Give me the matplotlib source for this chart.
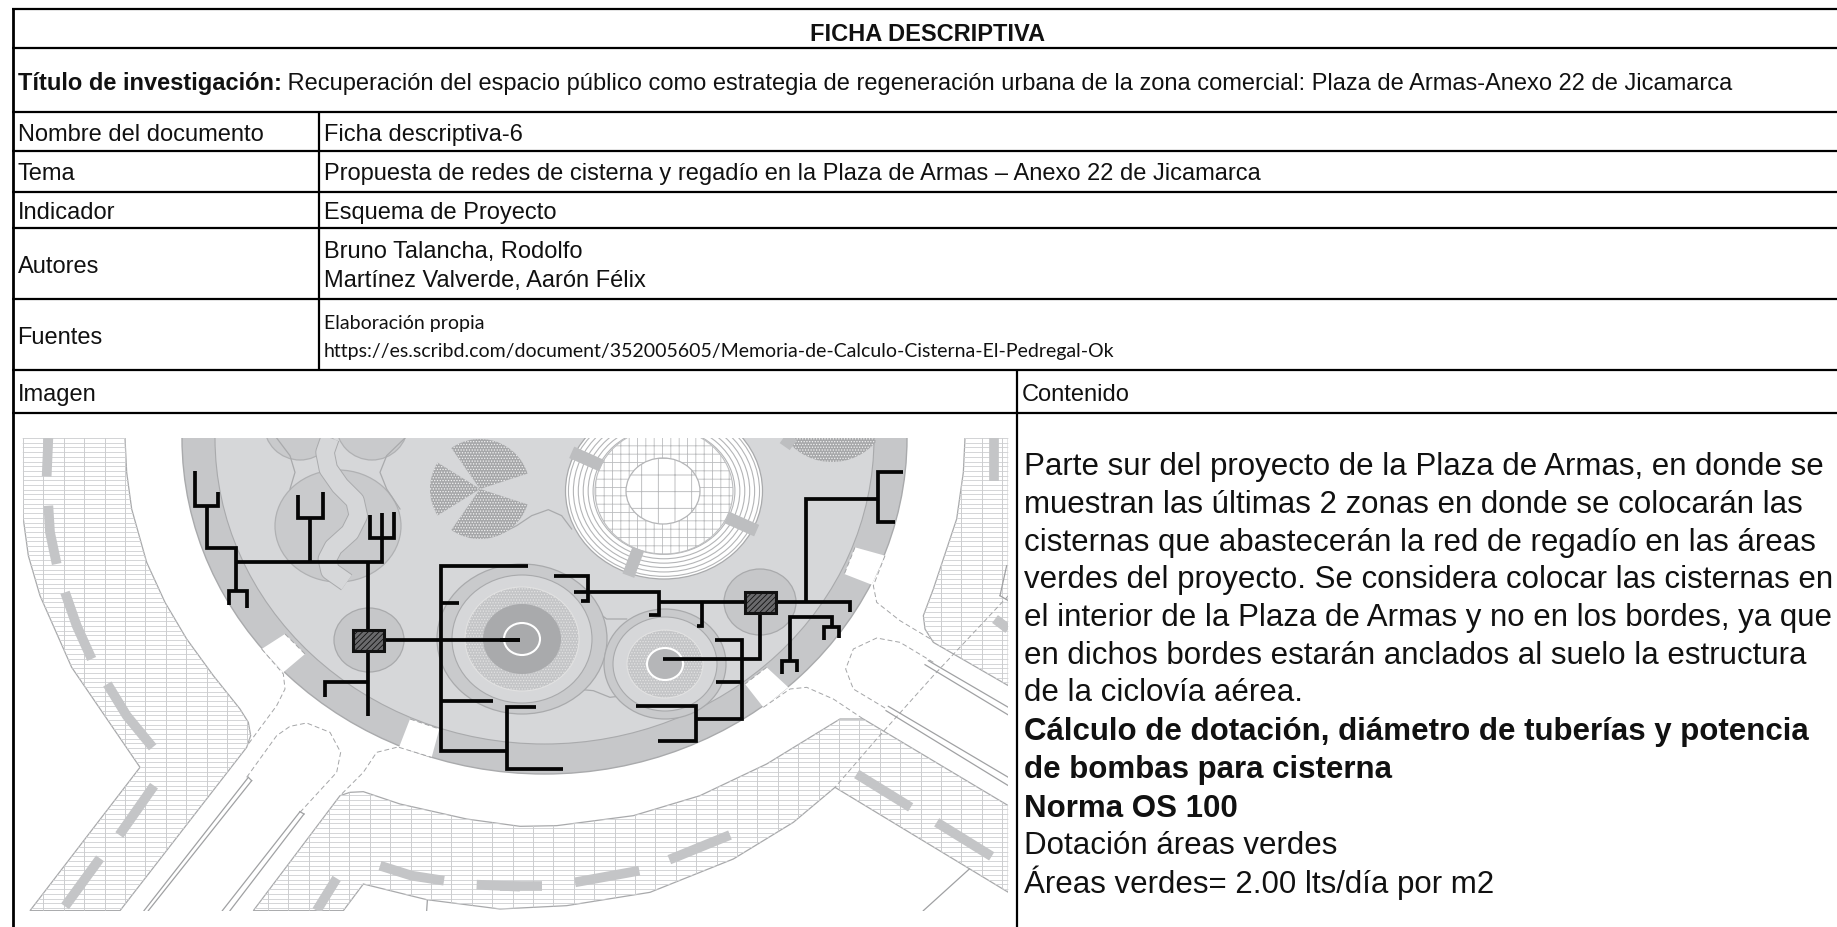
import numpy as np
import matplotlib
matplotlib.use("Agg")
import matplotlib.pyplot as plt
from matplotlib.patches import Polygon, Ellipse, Wedge, Rectangle
from matplotlib.collections import LineCollection

plt.rcParams['font.family'] = ['Liberation Sans']
plt.rcParams['hatch.linewidth'] = 0.6

# ---------- table texts ----------
header = "FICHA DESCRIPTIVA"
title_bold = "Título de investigación:"
title_rest = " Recuperación del espacio público como estrategia de regeneración urbana de la zona comercial: Plaza de Armas-Anexo 22 de Jicamarca"
row_labels = ["Nombre del documento", "Tema", "Indicador", "Autores", "Fuentes"]
row_label_y = [141, 180, 219, 273, 344]
row_values = ["Ficha descriptiva-6",
              "Propuesta de redes de cisterna y regadío en la Plaza de Armas – Anexo 22 de Jicamarca",
              "Esquema de Proyecto",
              "Bruno Talancha, Rodolfo",
              "Martínez Valverde, Aarón Félix"]
row_value_y = [141, 180, 219, 258, 287]
sources = ["Elaboración propia",
           "https://es.scribd.com/document/352005605/Memoria-de-Calculo-Cisterna-El-Pedregal-Ok"]
sources_y = [329, 357]
imagen_label = "Imagen"
contenido_label = "Contenido"
para_lines = [
    ("Parte sur del proyecto de la Plaza de Armas, en donde se", False),
    ("muestran las últimas 2 zonas en donde se colocarán las", False),
    ("cisternas que abastecerán la red de regadío en las áreas", False),
    ("verdes del proyecto. Se considera colocar las cisternas en", False),
    ("el interior de la Plaza de Armas y no en los bordes, ya que", False),
    ("en dichos bordes estarán anclados al suelo la estructura", False),
    ("de la ciclovía aérea.", False),
    ("Cálculo de dotación, diámetro de tuberías y potencia", True),
    ("de bombas para cisterna", True),
    ("Norma OS 100", True),
    ("Dotación áreas verdes", False),
    ("Áreas verdes= 2.00 lts/día por m2", False),
]
para_y = [474.7, 512.8, 550.8, 587.9, 625.6, 663.6, 701.3, 740, 778, 816.8, 854.5, 893.3]

# ---------- table grid ----------
grid_y = [10, 49, 113, 152, 193, 229, 300, 371, 414]

# ---------- diagram geometry (crop A = left, crop B = right) ----------
def A(pts):
    return [(x / 3, 420 + y / 3) for x, y in pts]
def B(pts):
    return [(500 + x / 3, 420 + y / 3) for x, y in pts]

pave_left = A([(68, 57), (375, 57), (380, 160), (395, 270), (440, 430), (495, 550), (560, 660), (640, 770), (720, 870),
               (745, 910), (752, 950), (740, 985), (360, 1475), (90, 1475), (420, 1045), (215, 745), (120, 530),
               (85, 410), (70, 300)])
pave_bottom = A([(760, 1475), (1020, 1130), (1050, 1120), (1090, 1118), (1200, 1155), (1400, 1200), (1560, 1222)]) + \
    B([(170, 1220), (400, 1190), (600, 1130), (800, 1035), (1020, 900), (1090, 900), (1525, 1160), (1525, 1420),
       (1005, 1105), (880, 1210), (700, 1320), (450, 1420), (200, 1460), (0, 1470)]) + \
    A([(1280, 1442), (1090, 1395), (1030, 1475)])
pave_right = B([(1395, 57), (1525, 57), (1525, 800), (1300, 670), (1275, 630), (1270, 590), (1300, 510), (1370, 300),
                (1390, 160)])
benches = [A([(145, 57), (140, 172)]), A([(145, 260), (150, 340), (170, 435)]), A([(195, 520), (230, 620), (275, 720)]),
           A([(322, 795), (380, 890), (458, 985)]), A([(462, 1100), (358, 1248)]), A([(300, 1318), (195, 1462)]),
           A([(1010, 1378), (950, 1475)]), A([(1140, 1340), (1235, 1370), (1332, 1385)]),
           A([(1430, 1397), (1560, 1403)]), B([(0, 1400), (125, 1400)]), B([(225, 1390), (418, 1355)]),
           B([(508, 1322), (690, 1248)]), B([(1070, 1065), (1232, 1165)]), B([(1310, 1210), (1475, 1312)]),
           B([(1482, 57), (1482, 185)]), B([(1485, 600), (1525, 630)])]
ring_gaps = [A([(785, 690), (855, 645), (915, 705), (850, 760)]), A([(1230, 900), (1318, 930), (1295, 1015), (1197, 985)]),
             B([(1065, 385), (1155, 410), (1115, 497), (1033, 465)]), B([(800, 745), (865, 805), (790, 865), (735, 795)])]
dashed = [A([(785, 690), (850, 765), (855, 810), (830, 860), (745, 975)]),
          A([(740, 1075), (830, 950), (870, 922), (920, 912), (990, 940), (1022, 1000), (1010, 1060), (900, 1180)]),
          A([(1190, 985), (1130, 1000), (1090, 1060), (1020, 1130)]), A([(1197, 985), (1295, 1015)]),
          A([(855, 645), (915, 705)]), A([(1230, 900), (1318, 930)]),
          B([(800, 745), (735, 795)]), B([(1065, 385), (1033, 465)]),
          B([(1155, 410), (1120, 500), (1130, 550), (1200, 605), (1300, 665)]),
          B([(1300, 730), (1200, 670), (1130, 657), (1060, 690), (1037, 750), (1060, 810), (1160, 870)]),
          B([(790, 865), (870, 810), (920, 805), (1000, 840), (1090, 900)]),
          B([(1525, 530), (1300, 770), (1130, 960), (1005, 1105)])]
thin_lines = [A([(745, 1075), (432, 1475)]), A([(755, 1085), (445, 1475)]), A([(900, 1178), (667, 1475)]),
              A([(912, 1185), (690, 1475)]), A([(745, 1075), (755, 1085)]), A([(900, 1178), (912, 1185)]),
              B([(1285, 725), (1525, 865)]), B([(1275, 737), (1525, 888)]), B([(1165, 862), (1525, 1075)]),
              B([(1158, 875), (1525, 1100)]), B([(1408, 1350), (1270, 1475)]), A([(1282, 1445), (1280, 1475)]),
              B([(1500, 530), (1525, 545)]), B([(1500, 530), (1520, 440)])]
winding_path = A([(990, 57), (975, 100), (985, 150), (1020, 200), (1065, 245), (1075, 290), (1050, 340), (1000, 385),
                  (982, 420), (990, 455), (1040, 490)])
soft_curves = [A([(830, 57), (870, 110), (885, 160), (870, 210)]), A([(1215, 57), (1160, 110), (1140, 160), (1160, 210), (1200, 270)]),
               B([(0, 345), (50, 320), (95, 290), (145, 272), (185, 290), (215, 330)]),
               B([(280, 570), (320, 600), (380, 600)]), B([(225, 810), (280, 815), (330, 835), (370, 830)])]
bench_links = [B([(215, 100), (305, 140)]), B([(680, 295), (770, 335)]), B([(415, 390), (385, 470)]),
               B([(850, 57), (880, 78)])]
pipes = [A([(585, 155), (585, 262), (655, 262), (655, 220)]),
         A([(620, 262), (620, 388), (707, 388), (707, 515)]),
         A([(687, 557), (687, 515), (742, 515), (742, 567)]),
         A([(707, 430), (1145, 430), (1145, 282)]),
         A([(1110, 288), (1110, 358), (1183, 358), (1183, 280)]),
         A([(895, 228), (895, 297), (968, 297), (968, 220)]),
         A([(930, 297), (930, 430)]),
         A([(1104, 430), (1104, 632)]),
         A([(1104, 695), (1104, 892)]),
         A([(976, 835), (976, 790), (1104, 790)]),
         A([(1150, 662), (1560, 662)]),
         B([(0, 662), (60, 662)]),
         A([(1585, 442), (1324, 442), (1324, 997), (1520, 997)]),
         A([(1324, 552), (1376, 552)]),
         A([(1324, 845), (1480, 845)]),
         B([(108, 863), (20, 863), (20, 1050), (188, 1050)]),
         B([(162, 470), (263, 470), (263, 545), (243, 545)]),
         B([(222, 518), (478, 518), (478, 588), (447, 588)]),
         B([(478, 548), (735, 548)]),
         B([(607, 548), (607, 620), (590, 620)]),
         B([(780, 578), (780, 720), (490, 720)]),
         B([(645, 662), (727, 662), (727, 900), (588, 900)]),
         B([(648, 790), (727, 790)]),
         B([(407, 860), (588, 860), (588, 965), (473, 965)]),
         B([(828, 548), (1050, 548), (1050, 578)]),
         B([(918, 548), (918, 240), (1135, 240)]),
         B([(1208, 160), (1135, 160), (1135, 310), (1185, 310)]),
         B([(918, 595), (997, 595), (997, 622)]),
         B([(972, 662), (972, 623), (1017, 623), (1017, 658)]),
         B([(870, 725), (870, 595), (918, 595)]),
         B([(845, 765), (845, 727), (890, 727), (890, 760)])]
cistern_boxes = [(352.5, 631, 31, 21), (745, 592.5, 31, 21)]

# colours
LIGHT, MID, DARK, PAVE = "#d6d7d9", "#c6c7c9", "#a9aaac", "#c9cacc"

fig = plt.figure(figsize=(18.37, 9.28), dpi=100, facecolor="white")
ax = fig.add_axes([0, 0, 1, 1])
ax.set_xlim(0, 1837)
ax.set_ylim(928, 0)
ax.axis("off")

clip = Rectangle((23, 439), 985, 473, transform=ax.transData, fill=False, lw=0)
ax.add_patch(clip)
drawn = []

def add(p):
    ax.add_patch(p)
    drawn.append(p)
    return p

def line(pts, **kw):
    xs, ys = zip(*pts)
    l, = ax.plot(xs, ys, **kw)
    drawn.append(l)
    return l

def hatch_polygon(pts):
    poly = Polygon(pts, closed=True, fc="white", ec="#a8a9ab", lw=0.9, zorder=1)
    ax.add_patch(poly)
    drawn.append(poly)
    segs = [[(20, y), (1010, y)] for y in np.arange(439, 915, 4.7)]
    lc = LineCollection(segs, colors="#d4d5d7", linewidths=0.7, zorder=1.1)
    ax.add_collection(lc)
    lc.set_clip_path(Polygon(pts, closed=True, transform=ax.transData))
    segs = [[(x, 430), (x, 920)] for x in np.arange(23, 1010, 20.4)]
    lc = LineCollection(segs, colors="#cccdcf", linewidths=0.7, zorder=1.1)
    ax.add_collection(lc)
    lc.set_clip_path(Polygon(pts, closed=True, transform=ax.transData))

for pts in (pave_left, pave_bottom, pave_right):
    hatch_polygon(pts)
for b in benches:
    line(b, color="#c4c5c7", lw=7, solid_capstyle="butt", solid_joinstyle="round", zorder=1.5)

# plaza (stretched circle)
cx, cy = 544.5, 439
add(Ellipse((cx, cy), 725, 672, fc=MID, ec="#a9aaac", lw=1, zorder=2))
add(Ellipse((cx, cy), 659, 612, fc=LIGHT, ec="#a9aaac", lw=0.8, zorder=2.1))
for g in ring_gaps:
    add(Polygon(g, closed=True, fc="white", ec="none", zorder=2.2))

# gardens
add(Ellipse((338, 527), 126, 112, fc=PAVE, ec="#b0b1b3", lw=0.9, zorder=2.3))
add(Ellipse((300, 425), 72, 72, fc=PAVE, ec="#b0b1b3", lw=0.9, zorder=2.3))
add(Ellipse((372, 425), 72, 72, fc=PAVE, ec="#b0b1b3", lw=0.9, zorder=2.3))
line(winding_path, color="#a9aaac", lw=14, solid_joinstyle="round", solid_capstyle="butt", zorder=2.35)
line(winding_path, color=LIGHT, lw=12.6, solid_joinstyle="round", solid_capstyle="butt", zorder=2.36)
for c in soft_curves:
    line(c, color="#a9aaac", lw=0.9, zorder=2.37)

# speckled wedges
for t1, t2 in [(18, 125), (148, 212), (235, 342)]:
    add(Wedge((480, 490), 50, t1, t2, fc="#a6a7a9", ec="#f2f2f2", hatch="......", lw=0, zorder=2.4))
add(Wedge((832, 405), 58, 40, 140, fc="#a6a7a9", ec="#f2f2f2", hatch="......", lw=0, zorder=2.4))

# amphitheatre
add(Ellipse((664, 492), 197, 176, fc="white", ec="#a9aaac", lw=0.9, zorder=2.5))
for f in np.arange(0.72, 1.0, 0.05):
    add(Ellipse((664, 492), 197 * f, 176 * f, fc="none", ec="#b4b5b7", lw=0.8, zorder=2.55))
add(Ellipse((664, 492), 138, 126, fc="white", ec="#bcbdbf", hatch="++", lw=0.8, zorder=2.6))
add(Ellipse((663, 492), 74, 66, fc="white", ec="#b4b5b7", hatch="+", lw=0.9, zorder=2.65))
for b in bench_links:
    line(b, color="#bdbec0", lw=9, solid_capstyle="butt", zorder=2.7)

# fountains
add(Ellipse((522, 640), 170, 150, fc=PAVE, ec="#a9aaac", lw=0.9, zorder=2.8))
add(Ellipse((522, 640), 140, 128, fc=LIGHT, ec="#a9aaac", lw=0.8, zorder=2.81))
add(Ellipse((522, 640), 114, 104, fc="#c4c5c7", ec="#e2e2e2", hatch="......", lw=0.8, zorder=2.82))
add(Ellipse((522, 640), 78, 70, fc="#a9aaac", ec="none", zorder=2.83))
add(Ellipse((522, 640), 36, 32, fc="#a9aaac", ec="white", lw=1.5, zorder=2.84))
add(Ellipse((665, 665), 122, 110, fc=PAVE, ec="#a9aaac", lw=0.9, zorder=2.8))
add(Ellipse((665, 665), 104, 94, fc=LIGHT, ec="#a9aaac", lw=0.8, zorder=2.81))
add(Ellipse((665, 665), 76, 68, fc="#c4c5c7", ec="#e2e2e2", hatch="......", lw=0.8, zorder=2.82))
add(Ellipse((665, 665), 36, 32, fc="#b5b6b8", ec="white", lw=1.5, zorder=2.84))

# cistern circles
add(Ellipse((369, 641), 70, 64, fc=MID, ec="#a9aaac", lw=0.9, zorder=2.9))
add(Ellipse((760, 603), 72, 66, fc=MID, ec="#a9aaac", lw=0.9, zorder=2.9))

for d in dashed:
    line(d, color="#a4a5a7", lw=0.7, ls=(0, (5, 3)), zorder=3)
for t in thin_lines:
    line(t, color="#a0a1a3", lw=0.9, zorder=1.8)
for p in pipes:
    line(p, color="#050505", lw=2.7, solid_capstyle="butt", solid_joinstyle="miter", zorder=4)
for x, y, w, h in cistern_boxes:
    add(Rectangle((x, y), w, h, fc="#6a6a6c", ec="#111111", hatch="//////", lw=2.2, zorder=4.5))

for art in drawn:
    art.set_clip_path(clip)

# ---------- table lines ----------
LW = 1.6
for y in grid_y:
    ax.plot([12, 1837], [y, y], color="black", lw=LW, solid_capstyle="butt", zorder=6)
ax.plot([13, 13], [9, 928], color="black", lw=2.0, solid_capstyle="butt", zorder=6)
ax.plot([319, 319], [113, 371], color="black", lw=LW, solid_capstyle="butt", zorder=6)
ax.plot([1017, 1017], [371, 928], color="black", lw=LW, solid_capstyle="butt", zorder=6)

# ---------- table text ----------
FS = 17
TXT = "#111111"
ax.text(927, 41, header, fontsize=FS, fontweight="bold", ha="center", va="baseline", color=TXT, zorder=7)
t0 = ax.text(17.5, 90, title_bold, fontsize=FS, fontweight="bold", ha="left", va="baseline", color=TXT, zorder=7)
fig.canvas.draw()
bb = t0.get_window_extent()
ax.text(bb.x1, 90, title_rest, fontsize=FS, ha="left", va="baseline", color=TXT, zorder=7)
for s, y in zip(row_labels, row_label_y):
    ax.text(17.5, y, s, fontsize=FS, ha="left", va="baseline", color=TXT, zorder=7)
for s, y in zip(row_values, row_value_y):
    ax.text(324, y, s, fontsize=FS, ha="left", va="baseline", color=TXT, zorder=7)
for s, y in zip(sources, sources_y):
    ax.text(324, y, s, fontsize=14, family="Lato", ha="left", va="baseline", color=TXT, zorder=7)
ax.text(17.5, 401, imagen_label, fontsize=FS, ha="left", va="baseline", color=TXT, zorder=7)
ax.text(1022, 401, contenido_label, fontsize=FS, ha="left", va="baseline", color=TXT, zorder=7)
for (s, bold), y in zip(para_lines, para_y):
    ax.text(1024, y, s, fontsize=22.5, fontweight="bold" if bold else "normal", ha="left", va="baseline",
            color=TXT, zorder=7)

fig.savefig("out.png", dpi=100, facecolor="white")
